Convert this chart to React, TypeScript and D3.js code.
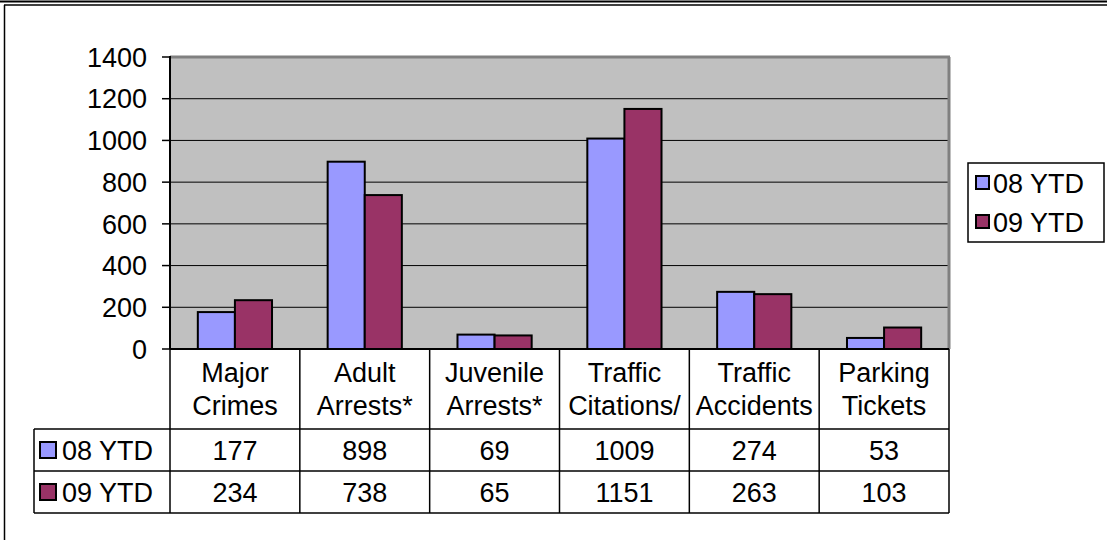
import * as d3 from "d3";

const categories = [
  ["Major", "Crimes"],
  ["Adult", "Arrests*"],
  ["Juvenile", "Arrests*"],
  ["Traffic", "Citations/"],
  ["Traffic", "Accidents"],
  ["Parking", "Tickets"],
];
const seriesNames = ["08 YTD", "09 YTD"];
const seriesColors = ["#9999FF", "#993366"];
const ytd08 = [177, 898, 69, 1009, 274, 53];
const ytd09 = [234, 738, 65, 1151, 263, 103];
const yTicks = [0, 200, 400, 600, 800, 1000, 1200, 1400];

const W = 1107;
const H = 540;
const plotLeft = 170;
const plotRight = 949;
const plotTop = 57;
const plotBottom = 349;
const tableLeft = 34;
const rowLines = [429, 471, 513];
const font = "'Liberation Sans', Arial, sans-serif";
const fs = 27;

export default function App() {
  const keys = categories.map((c) => c.join(" "));
  const x = d3.scaleBand().domain(keys).range([plotLeft, plotRight]).padding(0);
  const xs = d3
    .scaleBand()
    .domain(seriesNames)
    .range([0, x.bandwidth()])
    .paddingInner(0)
    .paddingOuter(0.75);
  const y = d3.scaleLinear().domain([0, 1400]).range([plotBottom, plotTop]);
  const series = [ytd08, ytd09];

  return (
    <svg
      width={W}
      height={H}
      style={{ position: "absolute", left: 0, top: 0, background: "#fff" }}
      fontFamily={font}
    >
      {/* page frame */}
      <line x1={0} x2={W} y1={1.5} y2={1.5} stroke="#000" strokeWidth={2} />
      <line x1={4} x2={W} y1={5} y2={5} stroke="#000" strokeWidth={1.5} />
      <line x1={4.5} x2={4.5} y1={5} y2={H} stroke="#000" strokeWidth={1.5} />

      {/* plot area */}
      <rect
        x={plotLeft}
        y={plotTop}
        width={plotRight - plotLeft}
        height={plotBottom - plotTop}
        fill="#C0C0C0"
      />
      {yTicks
        .filter((t) => t > 0 && t < 1400)
        .map((t) => (
          <line
            key={t}
            x1={plotLeft}
            x2={plotRight}
            y1={y(t)}
            y2={y(t)}
            stroke="#000"
            strokeWidth={1}
          />
        ))}
      <line x1={plotLeft} x2={plotRight + 1} y1={plotTop} y2={plotTop} stroke="#808080" strokeWidth={3} />
      <line x1={plotRight} x2={plotRight} y1={plotTop} y2={plotBottom} stroke="#808080" strokeWidth={3} />

      {/* bars */}
      {series.map((vals, si) =>
        vals.map((v, ci) => {
          const bx = (x(keys[ci]) as number) + (xs(seriesNames[si]) as number);
          return (
            <rect
              key={`${si}-${ci}`}
              x={bx}
              y={y(v)}
              width={xs.bandwidth()}
              height={y(0) - y(v)}
              fill={seriesColors[si]}
              stroke="#000"
              strokeWidth={2}
            />
          );
        })
      )}

      {/* axes */}
      <line x1={plotLeft} x2={plotLeft} y1={plotTop - 1} y2={plotBottom} stroke="#000" strokeWidth={2} />
      {yTicks.map((t) => (
        <g key={t}>
          <line x1={plotLeft - 8} x2={plotLeft} y1={y(t)} y2={y(t)} stroke="#000" strokeWidth={1.5} />
          <text
            x={147}
            y={y(t)}
            dy="0.36em"
            textAnchor="end"
            fontSize={fs}
            fill="#000"
          >
            {t}
          </text>
        </g>
      ))}

      {/* data table */}
      <line x1={plotLeft} x2={plotRight} y1={plotBottom} y2={plotBottom} stroke="#000" strokeWidth={2} />
      {rowLines.map((ry) => (
        <line key={ry} x1={tableLeft} x2={plotRight} y1={ry} y2={ry} stroke="#000" strokeWidth={1.5} />
      ))}
      <line x1={tableLeft} x2={tableLeft} y1={rowLines[0]} y2={rowLines[2]} stroke="#000" strokeWidth={1.5} />
      {keys.map((k) => (
        <line
          key={k}
          x1={x(k) as number}
          x2={x(k) as number}
          y1={plotBottom}
          y2={rowLines[2]}
          stroke="#000"
          strokeWidth={1.5}
        />
      ))}
      <line x1={plotRight} x2={plotRight} y1={plotBottom} y2={rowLines[2]} stroke="#000" strokeWidth={1.5} />

      {categories.map((c, ci) => {
        const cx = (x(keys[ci]) as number) + x.bandwidth() / 2;
        return (
          <g key={keys[ci]} fontSize={fs} textAnchor="middle" fill="#000">
            <text x={cx} y={382}>{c[0]}</text>
            <text x={cx} y={415}>{c[1]}</text>
          </g>
        );
      })}

      {series.map((vals, si) => {
        const cy = (rowLines[si] + rowLines[si + 1]) / 2;
        return (
          <g key={seriesNames[si]} fontSize={fs} fill="#000">
            <rect x={40} y={cy - 8} width={16} height={16} fill={seriesColors[si]} stroke="#000" strokeWidth={2} />
            <text x={62} y={cy} dy="0.36em">{seriesNames[si]}</text>
            {vals.map((v, ci) => (
              <text
                key={ci}
                x={(x(keys[ci]) as number) + x.bandwidth() / 2}
                y={cy}
                dy="0.36em"
                textAnchor="middle"
              >
                {v}
              </text>
            ))}
          </g>
        );
      })}

      {/* legend */}
      <rect x={968} y={163} width={136} height={79} fill="#fff" stroke="#000" strokeWidth={1.5} />
      {seriesNames.map((s, si) => {
        const cy = 183 + si * 39;
        return (
          <g key={s} fontSize={fs} fill="#000">
            <rect x={976} y={cy - 7} width={13} height={13} fill={seriesColors[si]} stroke="#000" strokeWidth={2} />
            <text x={993} y={cy} dy="0.36em">{s}</text>
          </g>
        );
      })}
    </svg>
  );
}
